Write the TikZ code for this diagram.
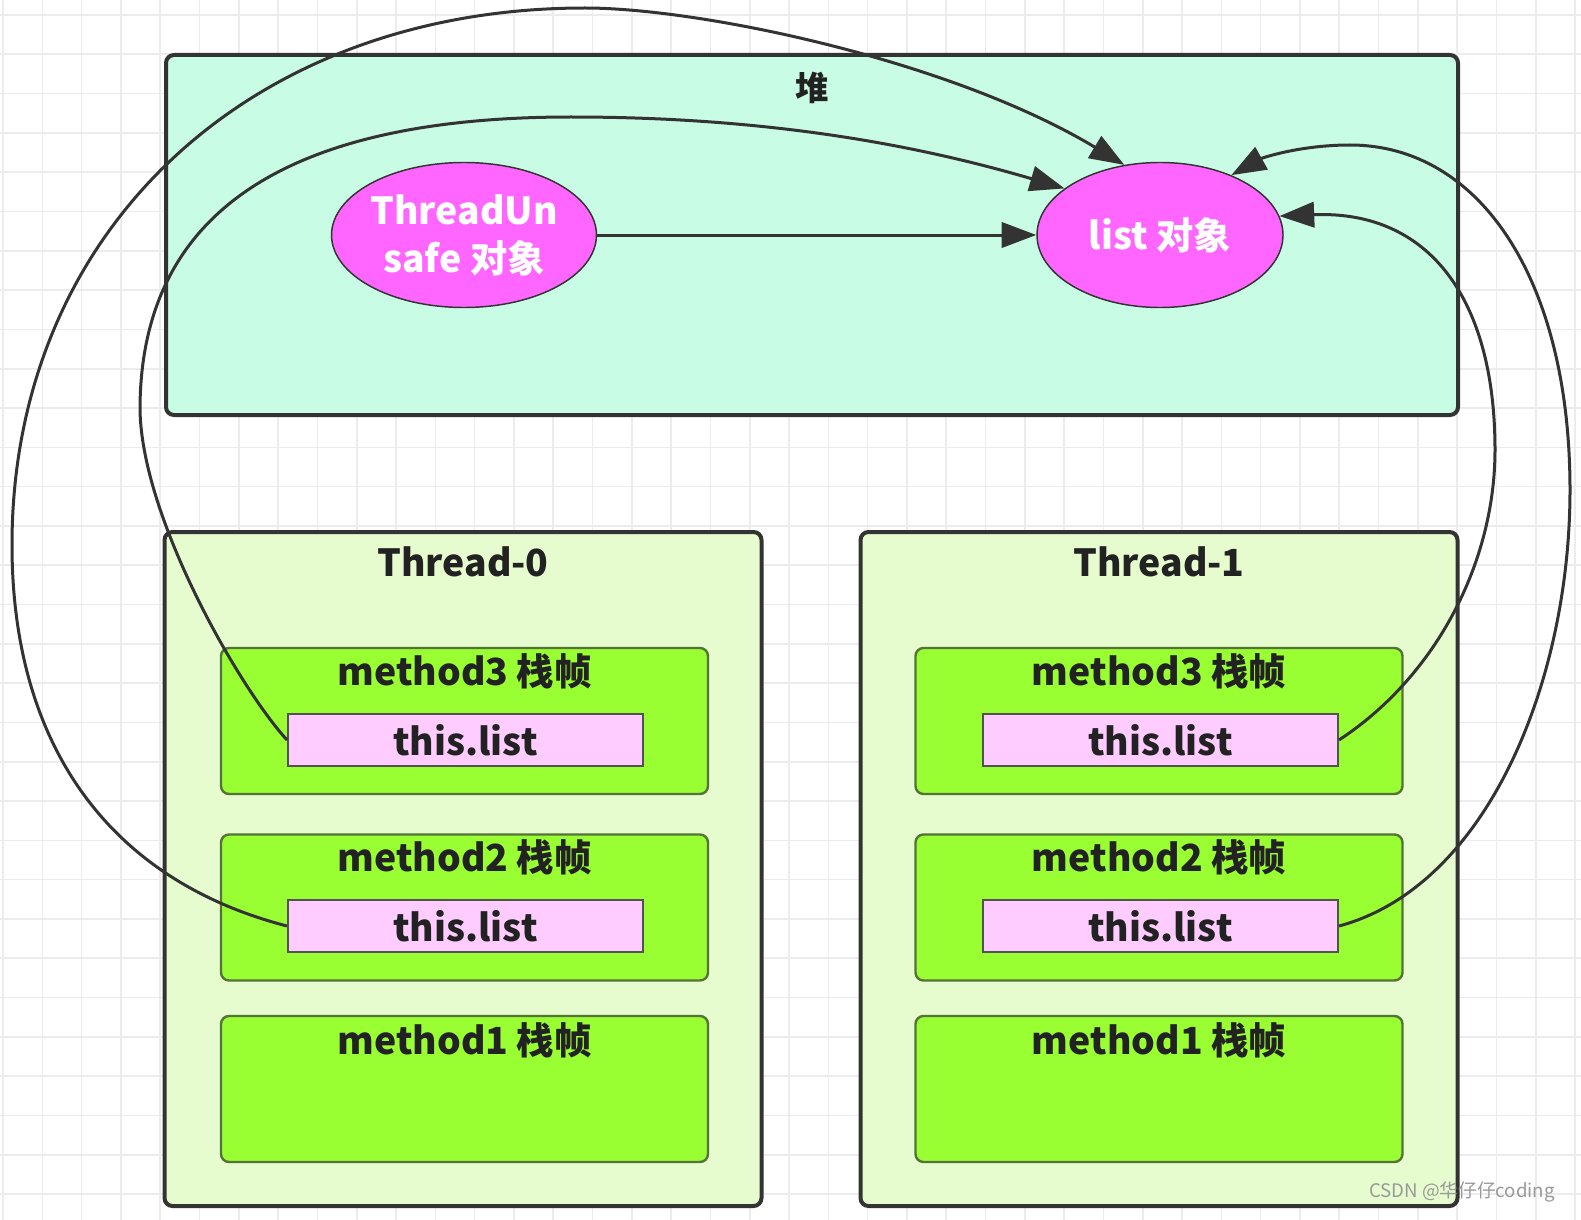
\documentclass[tikz,border=0pt]{standalone}
\usepackage{fontspec}
\setmainfont{Noto Sans CJK SC}
\usetikzlibrary{arrows.meta,shapes.geometric}
\newlength\pxu \setlength\pxu{0.75pt}
\definecolor{heapfill}{RGB}{200,252,228}
\definecolor{thrfill}{RGB}{230,252,206}
\definecolor{framefill}{RGB}{153,255,51}
\definecolor{framedraw}{RGB}{85,115,55}
\definecolor{reffill}{RGB}{255,204,255}
\definecolor{objfill}{RGB}{255,102,255}
\definecolor{ink}{RGB}{51,51,51}
\definecolor{txt}{RGB}{34,34,34}
\definecolor{gridc}{RGB}{236,236,236}
\begin{document}
\begin{tikzpicture}[x=0.75pt,y=-0.75pt,
  gridline/.style={draw=gridc,line width=1.2pt},
  region/.style={draw=ink,line width=3pt,rounded corners=6pt,inner sep=0pt},
  framebox/.style={draw=framedraw,line width=1.8pt,fill=framefill,rounded corners=6pt,inner sep=0pt,minimum width=487\pxu,minimum height=146\pxu},
  refbox/.style={draw=ink!85,line width=1.5pt,fill=reffill,inner sep=0pt,minimum width=355\pxu,minimum height=52\pxu,font=\fontsize{28pt}{34pt}\selectfont\bfseries,text=txt},
  obj/.style={ellipse,draw=ink,line width=1.1pt,fill=objfill,inner sep=0pt,minimum width=246\pxu,minimum height=145\pxu,text=white,align=center,font=\fontsize{28pt}{36pt}\selectfont\bfseries},
  lbl/.style={inner sep=0pt,text=txt,font=\fontsize{28pt}{34pt}\selectfont\bfseries},
  conn/.style={draw=ink,line width=2.25pt},
  arr/.style={conn,-{Triangle[length=26pt,width=19pt]}}
]
\useasboundingbox (0,0) rectangle (1581,1220);
\fill[white] (0,0) rectangle (1581,1220);
\foreach \i in {0,...,40} {
  \draw[gridline] ({3+39.3*\i},0) -- ({3+39.3*\i},1220);
}
\foreach \i in {0,...,31} {
  \draw[gridline] (0,{15+39.3*\i}) -- (1581,{15+39.3*\i});
}
% heap
\node[region,fill=heapfill,minimum width=1292\pxu,minimum height=360\pxu] (heap) at (812,235) {};
\node[lbl,font=\fontsize{25pt}{30pt}\selectfont\bfseries] (heaplbl) at (812,88) {堆};
\node[obj] (u) at (464,235) {ThreadUn\\safe 对象};
\node[obj] (l) at (1160,235) {list 对象};
% threads
\node[region,fill=thrfill,minimum width=597\pxu,minimum height=674\pxu] (t0) at (463,869) {};
\node[region,fill=thrfill,minimum width=597\pxu,minimum height=674\pxu] (t1) at (1159,869) {};
\node[lbl] (t0lbl) at (463,562) {Thread-0};
\node[lbl] (t1lbl) at (1159,562) {Thread-1};
% frames thread 0
\node[framebox] (a3) at (464.5,721) {};
\node[framebox] (a2) at (464.5,907.5) {};
\node[framebox] (a1) at (464.5,1089) {};
\node[lbl] (a3lbl) at (464.5,671) {method3 栈帧};
\node[lbl] (a2lbl) at (464.5,857) {method2 栈帧};
\node[lbl] (a1lbl) at (464.5,1040) {method1 栈帧};
\node[refbox] (ra3) at (465.5,740) {this.list};
\node[refbox] (ra2) at (465.5,926) {this.list};
% frames thread 1
\node[framebox] (b3) at (1159,721) {};
\node[framebox] (b2) at (1159,907.5) {};
\node[framebox] (b1) at (1159,1089) {};
\node[lbl] (b3lbl) at (1159,671) {method3 栈帧};
\node[lbl] (b2lbl) at (1159,857) {method2 栈帧};
\node[lbl] (b1lbl) at (1159,1040) {method1 栈帧};
\node[refbox] (rb3) at (1160.5,740) {this.list};
\node[refbox] (rb2) at (1160.5,926) {this.list};
% connectors
\draw[arr] (u) -- (l);
\draw[arr] (ra3.west) .. controls (241,690) and (142,520) .. (140,410)
  .. controls (140,220) and (275,117) .. (571,117)
  .. controls (750,117) and (900,140) .. (l.154);
\draw[arr] (ra2.west) .. controls (109,880) and (12,745) .. (12,545)
  .. controls (12,230) and (250,8) .. (585,8)
  .. controls (700,8) and (950,60) .. (l.117);
\draw[arr] (rb3.east) .. controls (1438,675) and (1495,560) .. (1495,450)
  .. controls (1495,300) and (1430,210) .. (l.9);
\draw[arr] (rb2.east) .. controls (1488,886) and (1570,680) .. (1570,490)
  .. controls (1570,280) and (1480,145) .. (1350,145)
  .. controls (1300,145) and (1262,158) .. (l.40);
% watermark
\node[inner sep=0pt,text=black!40,font=\fontsize{14pt}{16pt}\selectfont] (wm) at (1462,1192) {CSDN @华仔仔coding};
\end{tikzpicture}
\end{document}
